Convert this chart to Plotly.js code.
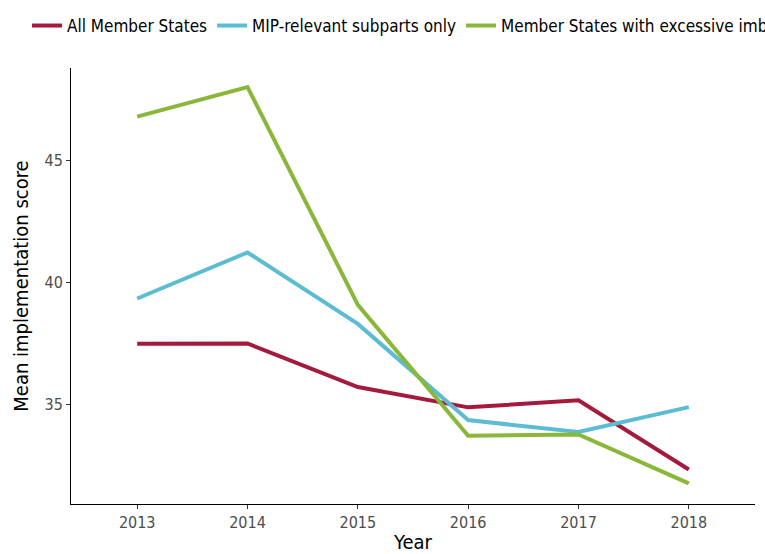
<!DOCTYPE html>
<html>
<head>
<meta charset="utf-8">
<script src="https://cdn.plot.ly/plotly-3.0.1.min.js"></script>
<style>
html,body{margin:0;padding:0;background:#fff;overflow:hidden;width:765px;height:554px;}
#chart{width:2000px;height:554px;}
</style>
</head>
<body>
<div id="chart"></div>
<script>
const years = [2013, 2014, 2015, 2016, 2017, 2018];
const allMemberStates = [37.49, 37.50, 35.72, 34.89, 35.18, 32.35];
const mipRelevant = [39.34, 41.22, 38.30, 34.37, 33.88, 34.90];
const excessiveImbalances = [46.77, 47.98, 39.08, 33.73, 33.78, 31.78];
const seriesNames = ["All Member States", "MIP-relevant subparts only", "Member States with excessive imbalances"];
const seriesColors = ["#A51A3C", "#5CBCD1", "#89B73A"];
const yTicks = [35, 40, 45];

const FONT = "'Liberation Sans Narrow', 'DejaVu Sans Condensed', 'Roboto Condensed', 'Liberation Sans', sans-serif";
const seriesValues = [allMemberStates, mipRelevant, excessiveImbalances];
const traces = seriesValues.map((vals, i) => ({
  x: years, y: vals, type: 'scatter', mode: 'lines', name: seriesNames[i],
  line: {color: seriesColors[i], width: 4}
}));

const layout = {
  width: 2000, height: 554,
  margin: {l: 71, r: 1245, t: 68, b: 50, autoexpand: false},
  paper_bgcolor: '#fff', plot_bgcolor: '#fff',
  font: {family: FONT, color: '#000', size: 16},
  showlegend: true,
  legend: {
    orientation: 'h', xref: 'paper', yref: 'container',
    x: -0.0643, y: 0.9856, xanchor: 'left', yanchor: 'top',
    font: {family: FONT, size: 17, color: '#000'},
    itemwidth: 30, traceorder: 'normal'
  },
  xaxis: {
    range: [2012.4, 2018.6], tickvals: years, ticktext: years.map(String),
    showgrid: false, zeroline: false, showline: true, linecolor: '#000', linewidth: 1,
    ticks: 'outside', ticklen: 4, tickcolor: '#333', tickwidth: 1,
    tickfont: {family: FONT, size: 16, color: '#4d4d4d'},
    title: {text: 'Year', font: {family: FONT, size: 20, color: '#000'}, standoff: 6}
  },
  yaxis: {
    range: [30.94, 48.76], tickvals: yTicks, ticktext: yTicks.map(String),
    showgrid: false, zeroline: false, showline: true, linecolor: '#000', linewidth: 1,
    ticks: 'outside', ticklen: 4, tickcolor: '#333', tickwidth: 1,
    tickfont: {family: FONT, size: 16, color: '#4d4d4d'},
    title: {text: 'Mean implementation score', font: {family: FONT, size: 20, color: '#000'}, standoff: 10}
  }
};

Plotly.newPlot('chart', traces, layout, {displayModeBar: false, staticPlot: true});
</script>
</body>
</html>
